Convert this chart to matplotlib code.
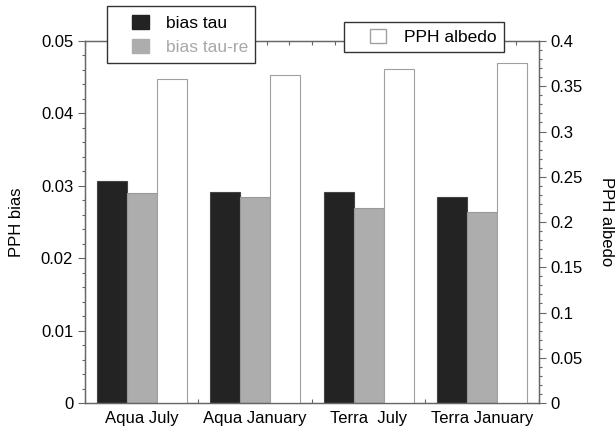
import numpy as np
import matplotlib
matplotlib.use("Agg")
import matplotlib.pyplot as plt
from matplotlib.patches import Patch, Rectangle
from matplotlib.ticker import MultipleLocator, FixedLocator

plt.rcParams['font.family'] = ['Liberation Sans', 'DejaVu Sans']
plt.rcParams['font.size'] = 12

# PPH bias / albedo per satellite and month
cases = ["Aqua July", "Aqua January", "Terra  July", "Terra January"]
bias_tau = [0.0306, 0.0292, 0.0291, 0.0285]
bias_tau_re = [0.0290, 0.0284, 0.0269, 0.0264]
pph_albedo = [0.358, 0.362, 0.369, 0.376]

spine_col = '#666666'
x = np.arange(len(cases)) + 0.5
w = 0.265

fig = plt.figure(figsize=(6.15, 4.29), dpi=100)
ax = fig.add_axes([0.1382, 0.0606, 0.7382, 0.8438])
ax2 = ax.twinx()

ax.bar(x - w, bias_tau, w, color='#232323', edgecolor='#444444', linewidth=0.8, zorder=2)
ax.bar(x, bias_tau_re, w, color='#adadad', edgecolor='#999999', linewidth=0.8, zorder=2)
ax2.bar(x + w, pph_albedo, w, facecolor='white', edgecolor='#a0a0a0', linewidth=0.8, zorder=2)

ax.set_xlim(0, 4)
ax.set_ylim(0, 0.05)
ax2.set_ylim(0, 0.4)

ax.xaxis.set_major_locator(FixedLocator(x))
ax.set_xticklabels(cases)
ax.xaxis.set_minor_locator(MultipleLocator(0.2))
ax.tick_params(axis='x', which='major', length=0, pad=6)
ax.tick_params(axis='x', which='minor', direction='in', length=3, width=0.8,
               color=spine_col, top=True, bottom=True)

ax.yaxis.set_major_locator(MultipleLocator(0.01))
ax.yaxis.set_minor_locator(MultipleLocator(0.002))
ax.yaxis.set_major_formatter(plt.FuncFormatter(lambda v, p: f"{v:g}"))
ax.tick_params(axis='y', which='major', direction='out', length=5, width=0.8, color=spine_col)
ax.tick_params(axis='y', which='minor', direction='out', length=2.5, width=0.8, color=spine_col)

ax2.yaxis.set_major_locator(MultipleLocator(0.05))
ax2.yaxis.set_minor_locator(MultipleLocator(0.01))
ax2.yaxis.set_major_formatter(plt.FuncFormatter(lambda v, p: f"{v:g}"))
ax2.tick_params(axis='y', which='major', direction='out', length=5, width=0.8, color=spine_col)
ax2.tick_params(axis='y', which='minor', direction='out', length=2.5, width=0.8, color=spine_col)

for a in (ax, ax2):
    for s in a.spines.values():
        s.set_color(spine_col)
        s.set_linewidth(0.9)

ax.set_ylabel("PPH bias", labelpad=12)
ax2.set_ylabel("PPH albedo", rotation=270, labelpad=22)

# legend boxes: wider padding on the left than the legend frame allows
for bx in [(0.1745, 0.8524, 0.2402, 0.1336), (0.5593, 0.8781, 0.2602, 0.0713)]:
    fig.patches.append(Rectangle(bx[:2], bx[2], bx[3], transform=fig.transFigure,
                                 facecolor='white', edgecolor='#333333',
                                 linewidth=1.0, zorder=4))

leg_kw = dict(loc='upper left', frameon=False, fontsize=12.5,
              handlelength=0.95, handleheight=0.9, handletextpad=1.0,
              borderpad=0, borderaxespad=0)

leg1 = fig.legend(handles=[Patch(facecolor='#232323', edgecolor='#232323'),
                           Patch(facecolor='#adadad', edgecolor='#adadad')],
                  labels=["bias tau", "bias tau-re"],
                  bbox_to_anchor=(0.2151, 0.965), labelspacing=0.45, **leg_kw)
leg1.get_texts()[1].set_color('#a8a8a8')

leg2 = fig.legend(handles=[Patch(facecolor='white', edgecolor='#a0a0a0')],
                  labels=["PPH albedo"],
                  bbox_to_anchor=(0.6016, 0.933), **leg_kw)

fig.savefig("out.png", dpi=100)
